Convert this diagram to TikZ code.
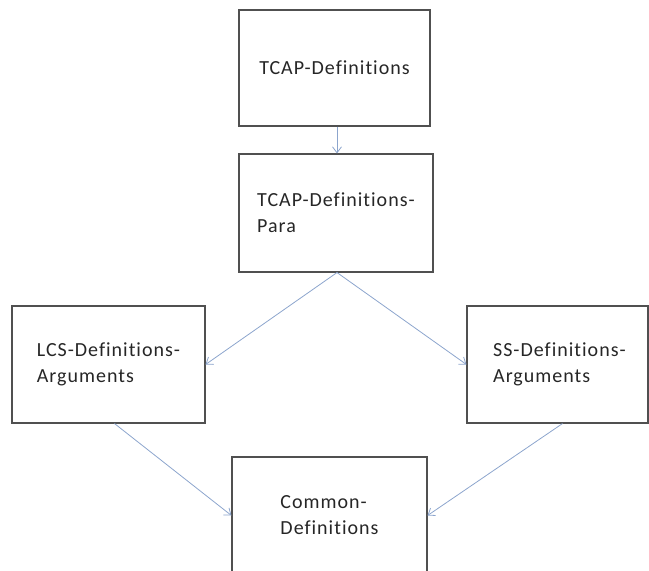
\documentclass[tikz,border=0pt]{standalone}
\usepackage{fontspec}
\setmainfont{Carlito}[LetterSpace=5, Ligatures={NoCommon,NoContextual}]
\usetikzlibrary{arrows.meta}
\definecolor{arrowblue}{RGB}{140,165,205}
\definecolor{boxline}{RGB}{80,80,80}
\begin{document}
\begin{tikzpicture}[x=1pt,y=-1pt,
  box/.style={draw=boxline, line width=1.1pt, rectangle, align=left,
    font=\fontsize{20}{26}\selectfont, text=black!85, inner sep=0pt},
  conn/.style={draw=arrowblue, line width=0.8pt, -{Straight Barb[length=6pt,width=9pt]}}]
\useasboundingbox (0,0) rectangle (649,571);
\node[box, minimum width=191pt, minimum height=116pt] (tcap) at (334.5,68) {TCAP-Definitions};
\node[box, minimum width=194pt, minimum height=118pt] (para) at (336,213) {TCAP-Definitions-\\Para};
\node[box, minimum width=193pt, minimum height=117pt] (lcs) at (108.5,364.5) {LCS-Definitions-\\Arguments};
\node[box, minimum width=181pt, minimum height=117pt] (ss) at (557.5,364.5) {\hspace*{4pt}SS-Definitions-\\\hspace*{4pt}Arguments};
\node[box, minimum width=195pt, minimum height=117pt] (common) at (329.5,515.5) {Common-\\Definitions};
\draw[conn] ([xshift=2.5pt]tcap.south) -- ([xshift=1pt]para.north);
\draw[conn] ([xshift=1pt]para.south) -- (lcs.east);
\draw[conn] ([xshift=1pt]para.south) -- (ss.west);
\draw[conn] ([xshift=6pt]lcs.south) -- (common.west);
\draw[conn] ([xshift=5pt]ss.south) -- (common.east);
\end{tikzpicture}
\end{document}
